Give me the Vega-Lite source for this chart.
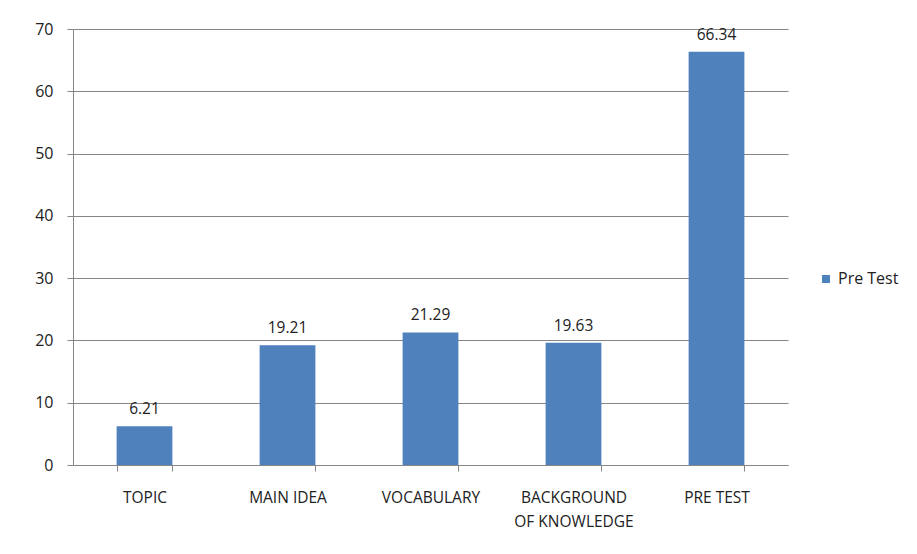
{
  "$schema": "https://vega.github.io/schema/vega-lite/v6.json",
  "autosize": "none",
  "width": 715,
  "height": 436,
  "padding": {"left": 73, "top": 29, "right": 129, "bottom": 89},
  "background": "white",
  "data": {
    "values": [
      {"category": "TOPIC", "score": 6.21, "series": "Pre Test"},
      {"category": "MAIN IDEA", "score": 19.21, "series": "Pre Test"},
      {"category": "VOCABULARY", "score": 21.29, "series": "Pre Test"},
      {"category": "BACKGROUND OF KNOWLEDGE", "score": 19.63, "series": "Pre Test"},
      {"category": "PRE TEST", "score": 66.34, "series": "Pre Test"}
    ]
  },
  "encoding": {
    "x": {
      "field": "category",
      "type": "nominal",
      "sort": null,
      "scale": {"paddingInner": 0.61, "paddingOuter": 0.305},
      "axis": {
        "title": null,
        "labelAngle": 0,
        "tickBand": "extent",
        "tickSize": 6,
        "tickColor": "#868686",
        "domainColor": "#868686",
        "labelPadding": 19,
        "labelFont": "Open Sans",
        "labelFontSize": 15.5,
        "labelColor": "#222222",
        "labelLineHeight": 24,
        "labelExpr": "datum.value == 'BACKGROUND OF KNOWLEDGE' ? ['BACKGROUND', 'OF KNOWLEDGE'] : datum.value"
      }
    },
    "y": {
      "field": "score",
      "type": "quantitative",
      "scale": {"domain": [0, 70], "nice": false},
      "axis": {
        "title": null,
        "values": [0, 10, 20, 30, 40, 50, 60, 70],
        "grid": true,
        "gridColor": "#868686",
        "gridOpacity": 1,
        "tickSize": 6,
        "tickColor": "#868686",
        "domainColor": "#868686",
        "labelPadding": 14,
        "labelFont": "Open Sans",
        "labelFontSize": 16,
        "labelColor": "#222222"
      }
    }
  },
  "layer": [
    {
      "mark": {"type": "bar"},
      "encoding": {
        "color": {
          "field": "series",
          "type": "nominal",
          "scale": {"range": ["#4F81BD"]},
          "legend": {
            "title": null,
            "orient": "none",
            "legendX": 745,
            "legendY": 242,
            "symbolType": "square",
            "symbolSize": 64,
            "symbolStrokeWidth": 0,
            "labelFont": "Open Sans",
            "labelFontSize": 16,
            "labelColor": "#222222",
            "labelOffset": 4
          }
        }
      }
    },
    {
      "mark": {
        "type": "text",
        "baseline": "bottom",
        "dy": -9,
        "font": "Open Sans",
        "fontSize": 15.5,
        "color": "#222222"
      },
      "encoding": {
        "text": {"field": "score", "type": "quantitative", "format": ".2f"}
      }
    }
  ],
  "config": {
    "view": {"stroke": null}
  }
}
